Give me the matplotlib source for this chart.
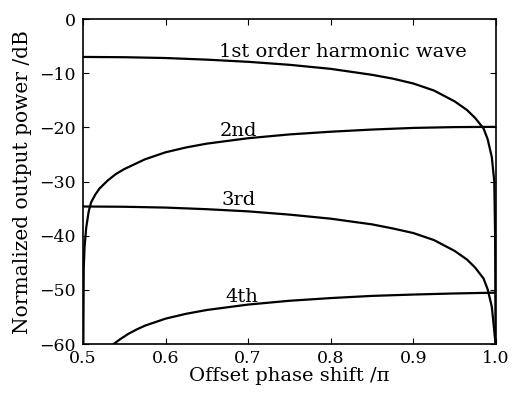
import matplotlib
matplotlib.use("Agg")
import matplotlib.pyplot as plt

# values
x1 = [0.5, 0.55, 0.6, 0.65, 0.7, 0.75, 0.8, 0.85, 0.875, 0.9, 0.925, 0.95,
      0.965, 0.975, 0.985, 0.99, 0.995, 0.998, 0.999, 0.9995]
y1 = [-7.0, -7.05, -7.2, -7.5, -7.9, -8.45, -9.2, -10.3, -11.0, -11.9, -13.2,
      -15.2, -16.8, -18.3, -20.2, -22.2, -25.5, -30, -40, -60]

x2 = [0.5005, 0.501, 0.502, 0.504, 0.507, 0.51, 0.515, 0.52, 0.53, 0.54,
      0.55, 0.575, 0.6, 0.625, 0.65, 0.7, 0.75, 0.8, 0.85, 0.9, 0.95, 1.0]
y2 = [-60, -46, -42, -38.5, -35.5, -33.8, -32.4, -31.3, -29.8, -28.6, -27.7,
      -25.9, -24.6, -23.7, -23.0, -22.0, -21.3, -20.8, -20.4, -20.1, -19.95, -19.9]

x3 = [0.5, 0.55, 0.6, 0.65, 0.7, 0.75, 0.8, 0.85, 0.875, 0.9, 0.925, 0.95,
      0.965, 0.975, 0.985, 0.99, 0.995, 0.998, 0.9995]
y3 = [-34.6, -34.65, -34.8, -35.1, -35.5, -36.1, -36.85, -37.9, -38.65, -39.5,
      -40.8, -42.8, -44.4, -45.9, -47.9, -49.9, -53.1, -57.6, -60]

x4 = [0.537, 0.545, 0.555, 0.565, 0.575, 0.6, 0.625, 0.65, 0.7, 0.75, 0.8,
      0.85, 0.9, 0.95, 1.0]
y4 = [-60, -59.1, -58.1, -57.3, -56.6, -55.3, -54.4, -53.7, -52.7, -52.0,
      -51.5, -51.1, -50.85, -50.65, -50.5]

labels = ["1st order harmonic wave", "2nd", "3rd", "4th"]
label_x = [0.665, 0.665, 0.668, 0.673]
label_y = [-6.95, -21.6, -34.4, -52.2]

plt.rcParams['font.family'] = ['DejaVu Serif']

fig = plt.figure(figsize=(5.15, 3.96), dpi=100)
ax = fig.add_axes([0.161, 0.131, 0.802, 0.821])

for xs, ys in [(x1, y1), (x2, y2), (x3, y3), (x4, y4)]:
    ax.plot(xs, ys, color='black', lw=1.6)

for txt, tx, ty in zip(labels, label_x, label_y):
    ax.text(tx, ty, txt, fontsize=14, va='baseline', ha='left')

ax.set_xlim(0.5, 1.0)
ax.set_ylim(-60, 0)
ax.set_xticks([0.5, 0.6, 0.7, 0.8, 0.9, 1.0])
ax.set_yticks([0, -10, -20, -30, -40, -50, -60])
ax.tick_params(direction='in', top=True, right=True, labelsize=12.5, length=4)
ax.tick_params(axis='x', pad=4)
ax.tick_params(axis='y', pad=5)
ax.set_xlabel("Offset phase shift /π", fontsize=14, labelpad=0)
ax.set_ylabel("Normalized output power /dB", fontsize=14.5, labelpad=5)
for s in ax.spines.values():
    s.set_linewidth(1.2)

fig.savefig("out.png", dpi=100)
